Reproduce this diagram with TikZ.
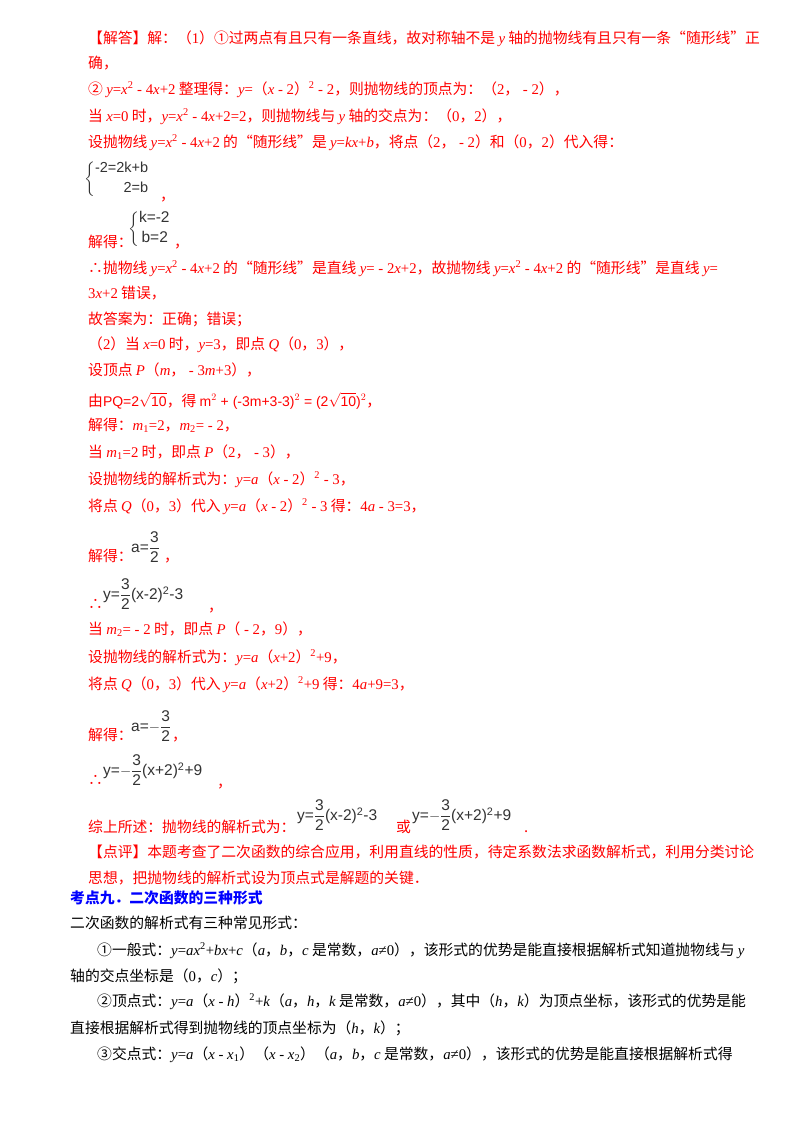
\documentclass[tikz,border=0pt]{standalone}
\usepackage{amsmath}
\usepackage{fontspec}
\setmainfont{Noto Sans CJK SC}
\newfontfamily\lt{Liberation Serif}
\newfontfamily\ls{Liberation Sans}
\newcommand\iv[1]{{\lt\itshape #1}}
\newcommand\nr[1]{{\lt #1}}
\definecolor{rd}{HTML}{FF0000}
\definecolor{bl}{HTML}{0000FF}
\definecolor{eq}{HTML}{333333}
\begin{document}
\begin{tikzpicture}[x=1pt,y=-1pt,
  r/.style={anchor=base west,inner sep=0,text=rd,font=\fontsize{14.8}{17}\selectfont},
  k/.style={anchor=base west,inner sep=0,text=black,font=\fontsize{14.8}{17}\selectfont},
  e/.style={anchor=base west,inner sep=0,text=eq,font=\ls\fontsize{15.5}{18}\selectfont}]
\useasboundingbox[fill=white] (0,0) rectangle (800,1132);
\node[r] (t1) at (88,44) {【解答】解：（\nr{1}）①过两点有且只有一条直线，故对称轴不是 \iv{y} 轴的抛物线有且只有一条“随形线”正};
\node[r] (t2) at (88,69) {确，};
\node[r] (t3) at (88,94) {② \iv{y}\nr{=}\iv{x}\textsuperscript{\nr{2}}\nr{ - 4}\iv{x}\nr{+2} 整理得：\iv{y}\nr{=}（\iv{x}\nr{ - 2}）\textsuperscript{\nr{2}}\nr{ - 2}，则抛物线的顶点为：（\nr{2}，\nr{ - 2}），};
\node[r] (t4) at (88,121) {当 \iv{x}\nr{=0} 时，\iv{y}\nr{=}\iv{x}\textsuperscript{\nr{2}}\nr{ - 4}\iv{x}\nr{+2=2}，则抛物线与 \iv{y} 轴的交点为：（\nr{0}，\nr{2}），};
\node[r] (t5) at (88,147) {设抛物线 \iv{y}\nr{=}\iv{x}\textsuperscript{\nr{2}}\nr{ - 4}\iv{x}\nr{+2} 的“随形线”是 \iv{y}\nr{=}\iv{kx}\nr{+}\iv{b}，将点（\nr{2}，\nr{ - 2}）和（\nr{0}，\nr{2}）代入得：};
\node[e,anchor=west,font=\ls\fontsize{14.5}{17}\selectfont] (b1) at (84,179) {$\left\{\begin{array}{@{}r@{}}\text{-2=2k+b}\\[3pt]\text{2=b}\end{array}\right.$};
\node[r] (c1) at (160,200) {，};
\node[r] (t6) at (88,247) {解得：};
\node[e,anchor=west] (b2) at (128,229) {$\left\{\begin{array}{@{}l@{}}\text{k=-2}\\[2pt]\text{\,b=2}\end{array}\right.$};
\node[r] (c2) at (174,247) {，};
\node[r] (t7) at (88,273) {∴抛物线 \iv{y}\nr{=}\iv{x}\textsuperscript{\nr{2}}\nr{ - 4}\iv{x}\nr{+2} 的“随形线”是直线 \iv{y}\nr{= - 2}\iv{x}\nr{+2}，故抛物线 \iv{y}\nr{=}\iv{x}\textsuperscript{\nr{2}}\nr{ - 4}\iv{x}\nr{+2} 的“随形线”是直线 \iv{y}\nr{=}};
\node[r] (t8) at (88,298) {\nr{3}\iv{x}\nr{+2} 错误，};
\node[r] (t9) at (88,324) {故答案为：正确；错误；};
\node[r] (t10) at (88,349) {（\nr{2}）当 \iv{x}\nr{=0} 时，\iv{y}\nr{=3}，即点 \iv{Q}（\nr{0}，\nr{3}），};
\node[r] (t11) at (88,375) {设顶点 \iv{P}（\iv{m}，\nr{ - 3}\iv{m}\nr{+3}），};
\node[r] (t12) at (88,406) {由{\ls\fontsize{14}{16}\selectfont PQ=2$\sqrt{\text{10}}$}，得 {\ls\fontsize{14}{16}\selectfont m$^2$ + (-3m+3-3)$^2$ = (2$\sqrt{\text{10}}$)$^2$}，};
\node[r] (t13) at (88,430) {解得：\iv{m}\textsubscript{\nr{1}}\nr{=2}，\iv{m}\textsubscript{\nr{2}}\nr{= - 2}，};
\node[r] (t14) at (88,457) {当 \iv{m}\textsubscript{\nr{1}}\nr{=2} 时，即点 \iv{P}（\nr{2}，\nr{ - 3}），};
\node[r] (t15) at (88,484) {设抛物线的解析式为：\iv{y}\nr{=}\iv{a}（\iv{x}\nr{ - 2}）\textsuperscript{\nr{2}}\nr{ - 3}，};
\node[r] (t16) at (88,511) {将点 \iv{Q}（\nr{0}，\nr{3}）代入 \iv{y}\nr{=}\iv{a}（\iv{x}\nr{ - 2}）\textsuperscript{\nr{2}}\nr{ - 3} 得：\nr{4}\iv{a}\nr{ - 3=3}，};
\node[r] (t17) at (88,561) {解得：};
\node[e,anchor=west] (f1) at (131,547) {a=$\dfrac{\text{3}}{\text{2}}$};
\node[r] (c4) at (164,561) {，};
\node[r] (t18) at (88,609) {∴};
\node[e,anchor=west] (f2) at (103,594) {y=$\dfrac{\text{3}}{\text{2}}$(x-2)$^{\text{2}}$-3};
\node[r] (c5) at (208,611) {，};
\node[r] (t19) at (88,634) {当 \iv{m}\textsubscript{\nr{2}}\nr{= - 2} 时，即点 \iv{P}（\nr{ - 2}，\nr{9}），};
\node[r] (t20) at (88,662) {设抛物线的解析式为：\iv{y}\nr{=}\iv{a}（\iv{x}\nr{+2}）\textsuperscript{\nr{2}}\nr{+9}，};
\node[r] (t21) at (88,689) {将点 \iv{Q}（\nr{0}，\nr{3}）代入 \iv{y}\nr{=}\iv{a}（\iv{x}\nr{+2}）\textsuperscript{\nr{2}}\nr{+9} 得：\nr{4}\iv{a}\nr{+9=3}，};
\node[r] (t22) at (88,740) {解得：};
\node[e,anchor=west] (f3) at (131,726) {a=$-\dfrac{\text{3}}{\text{2}}$};
\node[r] (c6) at (172,740) {，};
\node[r] (t23) at (88,785) {∴};
\node[e,anchor=west] (f4) at (103,770) {y=$-\dfrac{\text{3}}{\text{2}}$(x+2)$^{\text{2}}$+9};
\node[r] (c7) at (217,787) {，};
\node[r] (t24) at (88,832) {综上所述：抛物线的解析式为：};
\node[e,anchor=west] (f5) at (297,815) {y=$\dfrac{\text{3}}{\text{2}}$(x-2)$^{\text{2}}$-3};
\node[r] (t25) at (396,832) {或};
\node[e,anchor=west] (f6) at (412,815) {y=$-\dfrac{\text{3}}{\text{2}}$(x+2)$^{\text{2}}$+9};
\node[r] (c8) at (524,832) {.};
\node[r] (t26) at (88,857) {【点评】本题考查了二次函数的综合应用，利用直线的性质，待定系数法求函数解析式，利用分类讨论};
\node[r] (t27) at (88,883) {思想，把抛物线的解析式设为顶点式是解题的关键．};
\node[k,text=bl,font=\bfseries\fontsize{14.8}{17}\selectfont] (h1) at (70,903) {考点九．二次函数的三种形式};
\node[k] (t28) at (70,928) {二次函数的解析式有三种常见形式：};
\node[k] (t29) at (97,955) {①一般式：\iv{y}\nr{=}\iv{ax}\textsuperscript{\nr{2}}\nr{+}\iv{bx}\nr{+}\iv{c}（\iv{a}，\iv{b}，\iv{c} 是常数，\iv{a}\nr{≠0}），该形式的优势是能直接根据解析式知道抛物线与 \iv{y}};
\node[k] (t30) at (70,981) {轴的交点坐标是（\nr{0}，\iv{c}）；};
\node[k] (t31) at (97,1006) {②顶点式：\iv{y}\nr{=}\iv{a}（\iv{x}\nr{ - }\iv{h}）\textsuperscript{\nr{2}}\nr{+}\iv{k}（\iv{a}，\iv{h}，\iv{k} 是常数，\iv{a}\nr{≠0}），其中（\iv{h}，\iv{k}）为顶点坐标，该形式的优势是能};
\node[k] (t32) at (70,1033) {直接根据解析式得到抛物线的顶点坐标为（\iv{h}，\iv{k}）；};
\node[k] (t33) at (97,1059) {③交点式：\iv{y}\nr{=}\iv{a}（\iv{x}\nr{ - }\iv{x}\textsubscript{\nr{1}}）（\iv{x}\nr{ - }\iv{x}\textsubscript{\nr{2}}）（\iv{a}，\iv{b}，\iv{c} 是常数，\iv{a}\nr{≠0}），该形式的优势是能直接根据解析式得};
\end{tikzpicture}
\end{document}
